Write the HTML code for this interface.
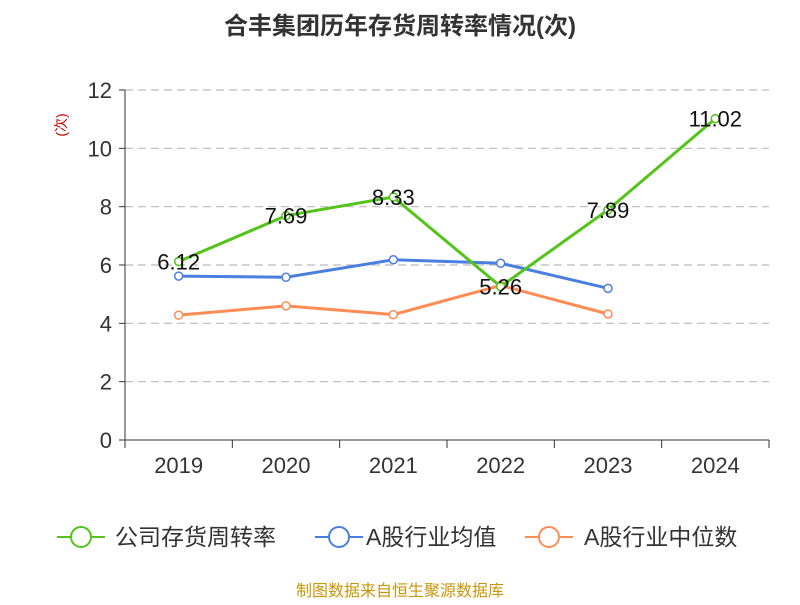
<!DOCTYPE html>
<html><head><meta charset="utf-8"><style>
body{margin:0;background:#fff;}
svg text{font-family:"Liberation Sans","Noto Sans CJK SC",sans-serif;}
</style></head><body>
<svg id="chart" width="800" height="600" xmlns="http://www.w3.org/2000/svg">
<text x="400" y="34" text-anchor="middle" font-size="24" font-weight="bold" fill="#333">合丰集团历年存货周转率情况(次)</text>
<text x="66" y="125" font-size="14" fill="#c00" transform="rotate(-90 66 125)" text-anchor="middle">(次)</text>
<g id="grid"></g><g id="axes"></g><g id="series"></g>
<g>
<g><line x1="57" y1="537" x2="105" y2="537" stroke="#52c41a" stroke-width="2"/><circle cx="81" cy="537" r="10" fill="#fff" stroke="#52c41a" stroke-width="2"/><text x="115" y="545" font-size="23" fill="#333">公司存货周转率</text></g>
<g><line x1="315" y1="537" x2="363" y2="537" stroke="#4a7fe0" stroke-width="2"/><circle cx="339" cy="537" r="10" fill="#fff" stroke="#4a7fe0" stroke-width="2"/><text x="366" y="545" font-size="23" fill="#333">A股行业均值</text></g>
<g><line x1="525" y1="537" x2="573" y2="537" stroke="#ff8c55" stroke-width="2"/><circle cx="549" cy="537" r="10" fill="#fff" stroke="#ff8c55" stroke-width="2"/><text x="584" y="545" font-size="23" fill="#333">A股行业中位数</text></g>
</g>
<text x="400" y="596" text-anchor="middle" font-size="16" fill="#c8960a">制图数据来自恒生聚源数据库</text>
</svg>
<script>
const categories=["2019","2020","2021","2022","2023","2024"];
const companyValues=[6.12,7.69,8.33,5.26,7.89,11.02];
const meanValues=[5.62,5.58,6.18,6.06,5.2];
const medianValues=[4.28,4.6,4.3,5.3,4.32];
const yTicks=[0,2,4,6,8,10,12];
const NS="http://www.w3.org/2000/svg";
const x0=125,x1=769,y0=440,y1=90,yMax=12;
const bw=(x1-x0)/categories.length;
const xs=i=>x0+bw*(i+0.5);
const ys=v=>y0-(v/yMax)*(y0-y1);
function mk(tag,attrs,parent){const e=document.createElementNS(NS,tag);for(const k in attrs)e.setAttribute(k,attrs[k]);parent.appendChild(e);return e;}
const grid=document.getElementById('grid'),axes=document.getElementById('axes'),ser=document.getElementById('series');
yTicks.forEach(t=>{
 if(t>0){const g=mk('line',{x1:x0,x2:x1,y1:ys(t),y2:ys(t),stroke:'#bbb','stroke-dasharray':'8,5','stroke-width':1.2},grid);
 
 }
 const tk=mk('line',{x1:x0-6,x2:x0,y1:ys(t),y2:ys(t),stroke:'#333'},axes);
 
 
 const l=mk('text',{x:x0-13,y:ys(t)+8,'text-anchor':'end','font-size':'22',fill:'#333'},axes);l.textContent=t;
 
 
});
const ya=mk('line',{x1:x0,x2:x0,y1:y1,y2:y0,stroke:'#333'},axes);


const xa=mk('line',{x1:x0,x2:x1,y1:y0,y2:y0,stroke:'#333'},axes);


for(let i=0;i<=categories.length;i++){const t=mk('line',{x1:x0+bw*i,x2:x0+bw*i,y1:y0,y2:y0+8,stroke:'#333'},axes);
 
 }
categories.forEach((c,i)=>{const l=mk('text',{x:xs(i),y:473,'text-anchor':'middle','font-size':'22',fill:'#333'},axes);l.textContent=c;
 
 });
function series(vals,color,name,labels){
 const p=mk('polyline',{points:vals.map((v,i)=>xs(i)+','+ys(v)).join(' '),fill:'none',stroke:color,'stroke-width':3},ser);
 
 
 vals.forEach((v,i)=>{const c=mk('circle',{cx:xs(i),cy:ys(v),r:4,fill:'#fff',stroke:color,'stroke-width':1.5},ser);
  
  
  if(labels){const t=mk('text',{x:xs(i),y:ys(v)+8,'text-anchor':'middle','font-size':'22',fill:'#111'},ser);t.textContent=v.toFixed(2);
   
   }
 });
}
series(medianValues,'#ff8c55','industry-median',false);
series(meanValues,'#4a7fe0','industry-mean',false);
series(companyValues,'#52c41a','company',true);
</script>
</body></html>
